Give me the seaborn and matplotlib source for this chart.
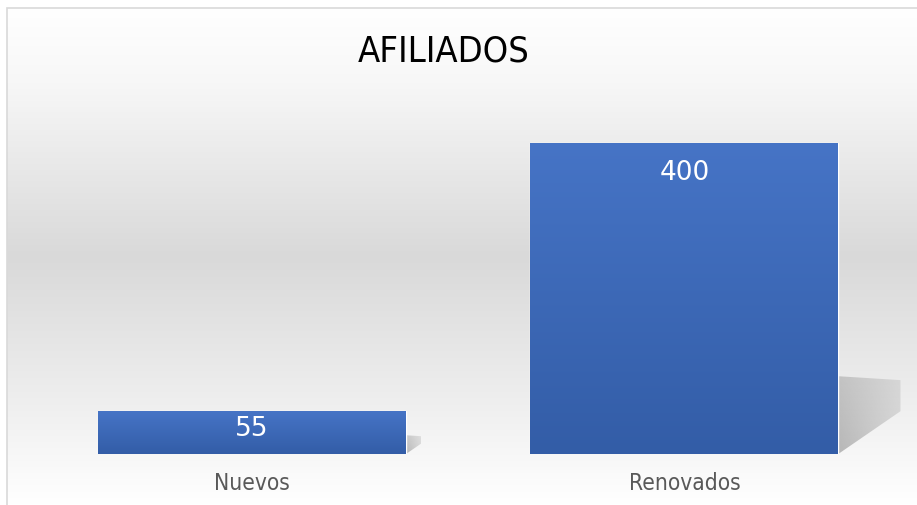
import numpy as np
import matplotlib
matplotlib.use("Agg")
import matplotlib.pyplot as plt
import seaborn as sns
from matplotlib.colors import LinearSegmentedColormap, to_rgb
from matplotlib.patches import Polygon, Rectangle

categories = ["Nuevos", "Renovados"]
values = [55, 400]
title = "AFILIADOS"

W, H = 917, 506

sns.set_theme(style="white")
plt.rcParams["font.family"] = ["DejaVu Sans"]

fig = plt.figure(figsize=(W / 100, H / 100), dpi=100)
fig.patch.set_facecolor("white")

# chart area background: soft vertical gradient, white -> grey -> white
bg = fig.add_axes([7 / W, 0, 1 - 7 / W, 1 - 9 / H], zorder=-2)
bg_cmap = LinearSegmentedColormap.from_list(
    "bg", [(0, "#ffffff"), (0.15, "#f7f7f7"), (0.5, "#d9d9d9"),
           (0.8, "#efefef"), (1, "#ffffff")])
bg.imshow(np.linspace(0, 1, 256).reshape(-1, 1), cmap=bg_cmap,
          aspect="auto", extent=[0, 1, 0, 1], origin="upper")
bg.set_axis_off()
fig.add_artist(Rectangle((6.5 / W, -0.01), 1.01, 1 - 9 / H + 0.01,
                         transform=fig.transFigure, fill=False,
                         edgecolor="#d9d9d9", linewidth=1.2))

ax = fig.add_axes([36 / W, (H - 455) / H, 864.5 / W, 350 / H])
ax.set_facecolor("none")
sns.barplot(x=categories, y=values, color="#4472c4", width=0.712,
            saturation=1, ax=ax, zorder=3)

bar_cmap = LinearSegmentedColormap.from_list("bar", ["#335da7", "#4674c6"])
px_per_y = 350 / 450
px_per_x = 864.5 / 2
for patch in ax.patches:
    x0, y0 = patch.get_x(), patch.get_y()
    w, h = patch.get_width(), patch.get_height()
    x1 = x0 + w
    # gradient fill
    im = ax.imshow(np.linspace(0, 1, 256).reshape(-1, 1), cmap=bar_cmap,
                   aspect="auto", extent=[x0, x1, y0, y0 + h],
                   origin="lower", zorder=4)
    im.set_clip_path(patch)
    # perspective shadow to the right
    sh = 0.22 * h + 12
    dx = sh * px_per_y * 0.8 / px_per_x
    poly = Polygon([(x1, sh), (x1 + dx, sh * 0.95), (x1 + dx, sh * 0.55),
                    (x1, 0)], closed=True, facecolor="none",
                   edgecolor="none")
    ax.add_patch(poly)
    rgba = np.zeros((64, 64, 4))
    rgba[..., :3] = to_rgb("#8c8c8c")
    yy = np.linspace(0, 1, 64).reshape(-1, 1)
    xx = np.linspace(0, 1, 64).reshape(1, -1)
    rgba[..., 3] = 0.6 * (1 - 0.3 * yy) * (1 - 0.5 * xx)
    sim = ax.imshow(rgba, aspect="auto", extent=[x1, x1 + dx, 0, sh],
                    origin="lower", zorder=2)
    sim.set_clip_path(poly)
    # value label inside the bar
    off = min(29, 0.4 * h * px_per_y)
    ax.annotate(f"{int(h)}", (x0 + w / 2, h), xytext=(0, -off * 0.72),
                textcoords="offset points", ha="center", va="center",
                color="white", fontsize=19, zorder=6)

ax.set_xlim(-0.5, 1.5)
ax.set_ylim(0, 450)
ax.set_yticks([])
ax.tick_params(axis="x", length=0, pad=12, labelsize=16.3,
               labelcolor="#595959")
for lbl in ax.get_xticklabels():
    lbl.set_fontstretch("condensed")
sns.despine(ax=ax, left=True, bottom=True)

fig.text(444 / W, 1 - 52 / H, title, ha="center", va="center",
         fontsize=26, color="black", fontstretch="condensed")

fig.savefig("out.png", dpi=100)
